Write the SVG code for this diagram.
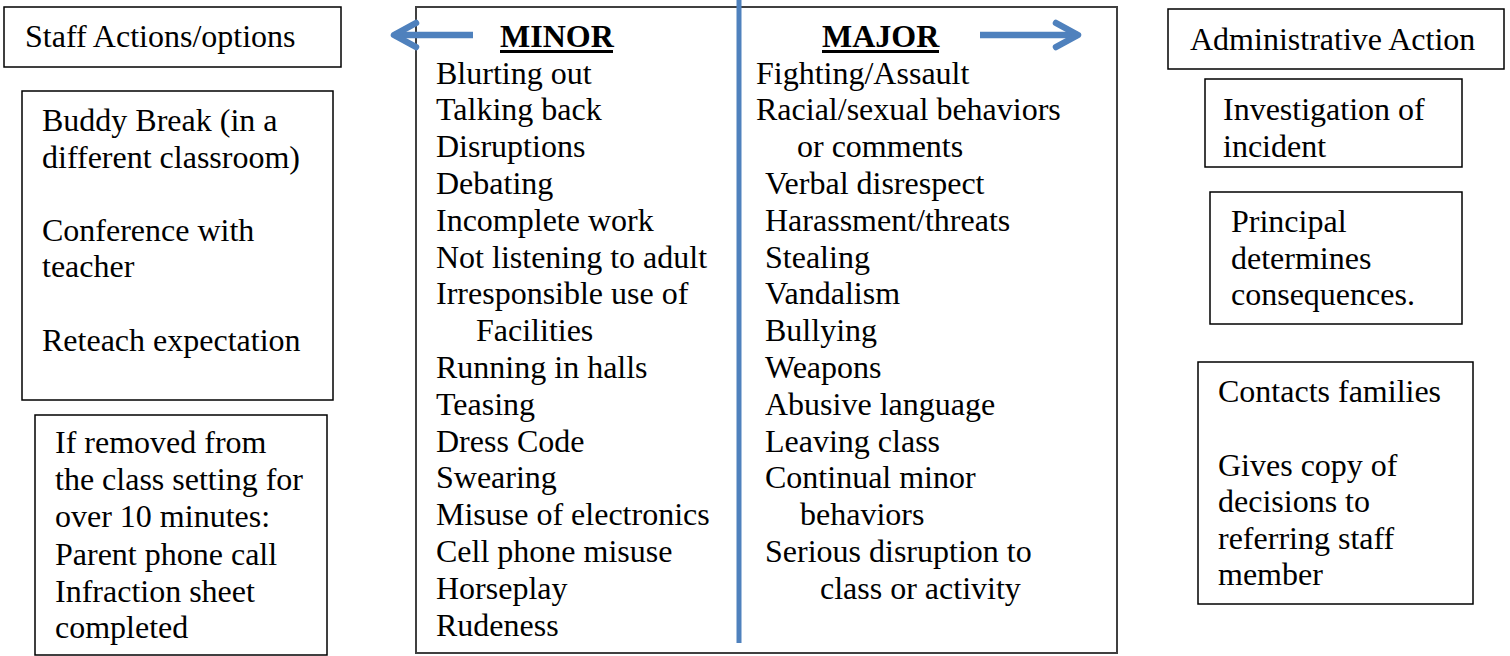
<svg xmlns="http://www.w3.org/2000/svg" width="1510" height="656" viewBox="0 0 1510 656">
<style>
  .box { fill: #ffffff; stroke: #000000; stroke-width: 1.5; }
  .main { fill: #ffffff; stroke: #404040; stroke-width: 2; }
  text { font-family: "Liberation Serif", "Times New Roman", serif; font-size: 32px; fill: #000000; }
  .hd { font-weight: bold; }
  .ul { stroke: #000000; stroke-width: 3; }
  .blue { stroke: #4F81BD; stroke-width: 6.5; fill: none; stroke-linecap: butt; }
</style>
<defs>
  <marker id="chev" markerUnits="userSpaceOnUse" markerWidth="36" markerHeight="36" refX="27" refY="18" orient="auto">
    <path d="M5,6 L27,18 L5,30" fill="none" stroke="#4F81BD" stroke-width="6.5" stroke-linecap="round" stroke-linejoin="round"/>
  </marker>
</defs>
<rect width="1510" height="656" fill="#ffffff"/>

<g id="staff-header">
  <rect class="box" x="4" y="7" width="337" height="60"/>
  <text x="25" y="47">Staff Actions/options</text>
</g>

<g id="staff-options">
  <rect class="box" x="22" y="91" width="311" height="309"/>
  <text x="42" y="131">Buddy Break (in a</text>
  <text x="42" y="167.5">different classroom)</text>
  <text x="42" y="240.5">Conference with</text>
  <text x="42" y="277">teacher</text>
  <text x="42" y="350.5">Reteach expectation</text>
</g>

<g id="removed">
  <rect class="box" x="35" y="415" width="292" height="240"/>
  <text x="55" y="453">If removed from</text>
  <text x="55" y="490">the class setting for</text>
  <text x="55" y="527">over 10 minutes:</text>
  <text x="55" y="564.5">Parent phone call</text>
  <text x="55" y="601.5">Infraction sheet</text>
  <text x="55" y="638">completed</text>
</g>

<g id="behaviors">
  <rect class="main" x="416" y="7" width="701" height="646"/>
  <line x1="739" y1="0" x2="739" y2="643" stroke="#4F81BD" stroke-width="5"/>
  <text class="hd" x="500" y="47">MINOR</text>
  <line class="ul" x1="500" y1="51.5" x2="613" y2="51.5"/>
  <text class="hd" x="822" y="47">MAJOR</text>
  <line class="ul" x1="822" y1="51.5" x2="939" y2="51.5"/>
  <g id="minor-list">
    <text x="436" y="83.5">Blurting out</text>
    <text x="436" y="120.3">Talking back</text>
    <text x="436" y="157.1">Disruptions</text>
    <text x="436" y="193.9">Debating</text>
    <text x="436" y="230.7">Incomplete work</text>
    <text x="436" y="267.5">Not listening to adult</text>
    <text x="436" y="304.3">Irresponsible use of</text>
    <text x="476" y="341.1">Facilities</text>
    <text x="436" y="377.9">Running in halls</text>
    <text x="436" y="414.7">Teasing</text>
    <text x="436" y="451.5">Dress Code</text>
    <text x="436" y="488.3">Swearing</text>
    <text x="436" y="525.1">Misuse of electronics</text>
    <text x="436" y="561.9">Cell phone misuse</text>
    <text x="436" y="598.7">Horseplay</text>
    <text x="436" y="635.5">Rudeness</text>
  </g>
  <g id="major-list">
    <text x="756" y="83.5">Fighting/Assault</text>
    <text x="756" y="120.3">Racial/sexual behaviors</text>
    <text x="797" y="157.1">or comments</text>
    <text x="765" y="193.9">Verbal disrespect</text>
    <text x="765" y="230.7">Harassment/threats</text>
    <text x="765" y="267.5">Stealing</text>
    <text x="765" y="304.3">Vandalism</text>
    <text x="765" y="341.1">Bullying</text>
    <text x="765" y="377.9">Weapons</text>
    <text x="765" y="414.7">Abusive language</text>
    <text x="765" y="451.5">Leaving class</text>
    <text x="765" y="488.3">Continual minor</text>
    <text x="800" y="525.1">behaviors</text>
    <text x="765" y="561.9">Serious disruption to</text>
    <text x="820" y="598.7">class or activity</text>
  </g>
</g>

<g id="admin-header">
  <rect class="box" x="1168" y="9" width="336" height="60"/>
  <text x="1190" y="50">Administrative Action</text>
</g>

<g id="investigation">
  <rect class="box" x="1205" y="79" width="257" height="88"/>
  <text x="1223" y="120">Investigation of</text>
  <text x="1223" y="157">incident</text>
</g>

<g id="principal">
  <rect class="box" x="1210" y="192" width="252" height="132"/>
  <text x="1231" y="232">Principal</text>
  <text x="1231" y="268.5">determines</text>
  <text x="1231" y="305">consequences.</text>
</g>

<g id="contacts">
  <rect class="box" x="1198" y="362" width="275" height="242"/>
  <text x="1218" y="402">Contacts families</text>
  <text x="1218" y="475.5">Gives copy of</text>
  <text x="1218" y="512">decisions to</text>
  <text x="1218" y="548.5">referring staff</text>
  <text x="1218" y="585">member</text>
</g>

<g id="connectors">
  <path class="blue" d="M473,35 L394,35" marker-end="url(#chev)"/>
  <path class="blue" d="M980,35 L1078,35" marker-end="url(#chev)"/>
</g>
</svg>
